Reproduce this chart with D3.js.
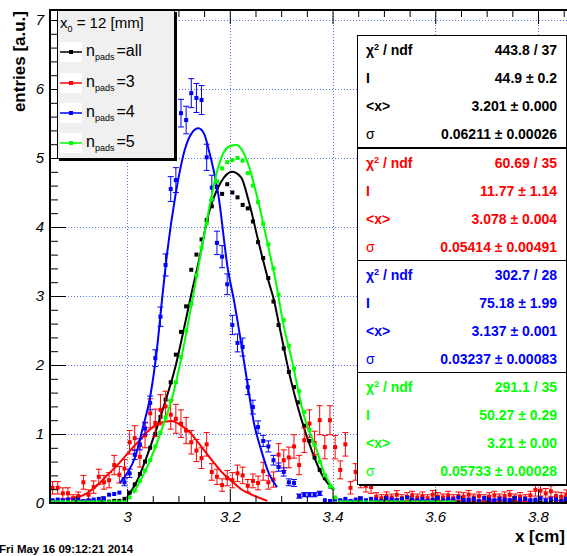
<!DOCTYPE html>
<html><head><meta charset="utf-8">
<script src="https://cdn.jsdelivr.net/npm/d3@7"></script>
<style>
body{margin:0;background:#fff;overflow:hidden}
svg{display:block;font-family:"Liberation Sans",Arial,Helvetica,sans-serif}
</style>
</head><body>
<svg id="c" width="567" height="556"></svg>
<script>
// ---------------- data ----------------
const binStart = 2.855, binWidth = 0.01;   // histogram bin centres 2.855 ... 3.895
const xDomain = [2.85, 3.9];
const yDomain = [0, 7.145];
const xTicks = [3.0, 3.2, 3.4, 3.6, 3.8];
const xTickLabels = ["3", "3.2", "3.4", "3.6", "3.8"];
const yTicks = [0, 1, 2, 3, 4, 5, 6, 7];
const yTickLabels = ["0", "1", "2", "3", "4", "5", "6", "7"];

const seriesNames = ["all", "3", "4", "5"];
const seriesColors = ["#000000", "#ff0000", "#0000ff", "#00ff00"];

const blackVals = [0.02,0.01,0.02,0.01,0.02,0.02,0.01,0.02,0.02,0.01,0.02,0.02,0.03,0.03,0.06,
 0.15,0.27,0.42,0.60,0.80,1.00,1.25,1.50,1.75,2.15,2.48,2.85,3.38,3.60,3.82,4.10,4.30,4.58,4.48,4.62,
 4.50,4.43,4.32,4.27,4.08,3.78,3.55,3.26,2.92,2.58,2.24,1.90,1.68,1.46,1.12,0.90,0.66,0.48,0.36,0.24,0.07,
 0.03,0.02,0.02,0.01,0.02,0.01,0.02,0.01,0.01,0.02,0.01,0.02,0.01,0.01,0.02,0.01,0.02,0.01,0.01,0.02,
 0.01,0.01,0.02,0.01,0.02,0.01,0.01,0.02,0.01,0.01,0.02,0.01,0.01,0.02,0.01,0.01,0.02,0.01,0.02,0.01,
 0.01,0.02,0.01,0.01,0.02,0.01,0.01,0.02,0.01];

const redVals = [0.22,0.22,0.14,0.14,0.07,0.10,0.30,0.12,0.23,0.38,0.30,0.33,0.55,0.41,0.50,0.88,0.94,0.67,0.98,1.30,
 1.16,1.35,1.40,1.28,1.22,1.15,1.05,0.88,0.76,0.65,0.85,0.45,0.38,0.26,0.36,0.33,0.43,0.40,0.25,0.32,
 0.29,0.46,0.30,0.34,0.70,0.62,0.66,0.82,0.55,0.91,1.15,0.87,1.20,0.81,1.20,0.81,0.48,0.85,0.22,0.45,
 0.33,0.25,0.23,0.09,0.07,
 0.10,0.08,0.12,0.07,0.09,0.11,0.08,0.10,0.07,0.12,0.09,0.08,0.11,0.07,0.10,0.09,0.12,0.08,0.10,0.07,
 0.09,0.11,0.08,0.10,0.12,0.08,0.09,0.07,0.11,0.19,0.18,0.14,0.17,0.10,0.09,0.12,0.19,0.08,0.10,0.09];
const redErrs = [0.09,0.09,0.08,0.08,0.05,0.06,0.10,0.07,0.09,0.11,0.10,0.11,0.14,0.12,0.13,0.17,0.18,0.15,0.18,0.21,
 0.20,0.22,0.22,0.21,0.21,0.20,0.19,0.17,0.16,0.15,0.17,0.12,0.11,0.09,0.11,0.11,0.12,0.12,0.09,0.10,
 0.10,0.13,0.10,0.11,0.16,0.15,0.15,0.17,0.14,0.18,0.20,0.17,0.21,0.17,0.21,0.17,0.13,0.17,0.09,0.12,
 0.11,0.09,0.09,0.06,0.05,
 0.06,0.05,0.06,0.05,0.06,0.06,0.05,0.06,0.05,0.06,0.06,0.05,0.06,0.05,0.06,0.06,0.06,0.05,0.06,0.05,
 0.06,0.06,0.05,0.06,0.06,0.05,0.06,0.05,0.06,0.09,0.08,0.07,0.08,0.06,0.06,0.07,0.09,0.05,0.06,0.06];

const blueVals = [0.04,0.05,0.04,0.05,0.04,0.05,0.03,0.04,0.05,0.06,0.07,0.12,0.13,0.15,
 0.30,0.43,0.70,0.85,1.08,1.45,2.10,2.70,3.45,4.55,4.68,5.65,5.55,5.94,5.87,5.84,5.01,4.57,3.77,3.57,3.17,
 2.58,2.32,2.26,1.68,1.39,1.10,0.90,0.82,0.62,0.52,0.45,0.30,0.29,0.10,0.12,0.12,0.12,0.14,0.04,0.03,0.05,
 0.04,0.06,0.03,0.05,0.07,0.04,0.06,0.05,0.03,0.07,0.05,0.04,0.06,0.08,0.05,0.04,0.06,0.03,0.05,0.07,
 0.04,0.06,0.05,0.08,0.04,0.05,0.06,0.03,0.07,0.05,0.04,0.06,0.05,0.04,0.07,0.05,0.06,0.04,0.05,0.07,
 0.04,0.06,0.05,0.03,0.06,0.05,0.04,0.06,0.05];
const blueErrs = [0.02,0.02,0.02,0.02,0.02,0.02,0.02,0.02,0.02,0.02,0.02,0.02,0.02,0.02,
 0.05,0.06,0.07,0.08,0.09,0.10,0.12,0.14,0.16,0.18,0.18,0.20,0.20,0.21,0.21,0.21,0.19,0.18,0.17,0.16,0.15,
 0.14,0.13,0.13,0.11,0.10,0.09,0.08,0.08,0.07,0.06,0.06,0.05,0.05,0.03,0.03,0.03,0.03,0.03,0.02,0.02,0.02,
 0.02,0.02,0.02,0.02,0.02,0.02,0.02,0.02,0.02,0.02,0.02,0.02,0.02,0.02,0.02,0.02,0.02,0.02,0.02,0.02,
 0.02,0.02,0.02,0.02,0.02,0.02,0.02,0.02,0.02,0.02,0.02,0.02,0.02,0.02,0.02,0.02,0.02,0.02,0.02,0.02,
 0.02,0.02,0.02,0.02,0.02,0.02,0.02,0.02,0.02];

const greenVals = [0.01,0.01,0.01,0.01,0.01,0.01,0.01,0.01,0.01,0.01,0.01,0.01,0.01,0.01,0.01,
 0.08,0.18,0.32,0.47,0.62,0.82,1.02,1.24,1.48,1.75,2.12,2.50,2.88,3.30,3.70,4.05,4.40,4.66,4.85,4.94,
 4.97,5.00,4.96,4.78,4.60,4.36,4.05,3.75,3.40,3.02,2.65,2.28,1.95,1.62,1.32,1.06,0.84,0.60,0.40,0.24,0.08,
 0.01,0.01,0.01,0.01,0.01,0.01,0.01,0.01,0.01,0.01,0.01,0.01,0.01,0.01,0.01,0.01,0.01,0.01,0.01,0.01,
 0.01,0.01,0.01,
 null,null,null,null,null,null,null,null,null,null,null,null,null,null,null,null,null,null,null,null,
 null,null,null,null,null,null];

// fitted curves
const blackFitX = [3.000,3.020,3.045,3.071,3.094,3.110,3.124,3.143,3.157,3.167,3.182,3.204,3.222,3.237,3.257,3.276,3.286,3.296,3.306,3.313,3.326,3.339,3.359,3.378,3.400];
const blackFitY = [0.08,0.33,0.81,1.39,1.97,2.50,2.99,3.62,4.14,4.39,4.64,4.80,4.72,4.37,3.75,3.20,2.94,2.58,2.22,1.97,1.57,1.22,0.77,0.43,0.20];
const redFitX = [2.884,2.914,2.947,2.961,2.980,3.012,3.025,3.039,3.065,3.086,3.110,3.124,3.137,3.160,3.188,3.205,3.222,3.240,3.273];
const redFitY = [0.06,0.11,0.29,0.40,0.54,0.81,0.91,1.03,1.16,1.19,1.10,1.01,0.89,0.67,0.42,0.31,0.20,0.13,0.03];
const blueFitX = [2.986,3.000,3.016,3.031,3.045,3.058,3.068,3.078,3.094,3.114,3.125,3.139,3.150,3.159,3.178,3.196,3.208,3.222,3.235,3.247,3.261,3.276,3.292];
const blueFitY = [0.29,0.43,0.67,1.10,1.54,2.22,2.94,3.62,4.45,5.16,5.35,5.43,5.35,5.12,4.45,3.40,2.94,2.32,1.70,1.16,0.77,0.43,0.23];
const greenFitX = [3.012,3.039,3.065,3.090,3.110,3.127,3.137,3.150,3.163,3.175,3.188,3.200,3.214,3.225,3.235,3.255,3.275,3.290,3.304,3.320,3.345,3.369,3.384,3.404];
const greenFitY = [0.14,0.52,1.01,1.59,2.26,2.94,3.35,3.88,4.39,4.80,5.08,5.17,5.19,5.10,4.93,4.38,3.71,3.19,2.60,2.10,1.25,0.77,0.43,0.19];

// fit statistics
const statLabels = ["\u03C7\u00B2 / ndf", "I", "<x>", "\u03C3"];
const statBlack = ["443.8 / 37", "44.9 \u00B1 0.2", "3.201 \u00B1 0.000", "0.06211 \u00B1 0.00026"];
const statRed   = ["60.69 / 35", "11.77 \u00B1 1.14", "3.078 \u00B1 0.004", "0.05414 \u00B1 0.00491"];
const statBlue  = ["302.7 / 28", "75.18 \u00B1 1.99", "3.137 \u00B1 0.001", "0.03237 \u00B1 0.00083"];
const statGreen = ["291.1 / 35", "50.27 \u00B1 0.29", "3.21 \u00B1 0.00", "0.05733 \u00B1 0.00028"];

// ---------------- drawing ----------------
const svg = d3.select("#c");
const X0 = 50, X1 = 589.4, Y0 = 503, Y1 = 10;
const x = d3.scaleLinear().domain(xDomain).range([X0, X1]);
const y = d3.scaleLinear().domain(yDomain).range([Y0, Y1]);

svg.append("defs").append("clipPath").attr("id", "plot")
  .append("rect").attr("x", X0).attr("y", Y1).attr("width", X1 - X0).attr("height", Y0 - Y1);

// grid
const grid = svg.append("g").attr("stroke", "#5572ff").attr("stroke-width", 1).attr("stroke-dasharray", "1,2");
xTicks.forEach(v => grid.append("line").attr("x1", Math.round(x(v)) + 0.5).attr("x2", Math.round(x(v)) + 0.5).attr("y1", Y1).attr("y2", Y0));
yTicks.filter(v => v > 0).forEach(v => grid.append("line").attr("x1", X0).attr("x2", X1).attr("y1", Math.round(y(v)) + 0.5).attr("y2", Math.round(y(v)) + 0.5));

// data
const plot = svg.append("g").attr("clip-path", "url(#plot)");
const bins = d3.range(blackVals.length).map(i => binStart + i * binWidth);

function drawSeries(vals, errs, fitX, fitY, color) {
  const g = plot.append("g");
  const pts = bins.map((c, i) => ({c, v: vals[i], e: errs ? errs[i] : 0})).filter(d => d.v !== null);
  if (errs) {
    const eb = g.append("g").attr("stroke", color).attr("stroke-width", 1);
    pts.forEach(d => {
      const px = x(d.c), yt = y(d.v + d.e), yb = y(Math.max(0, d.v - d.e));
      if (yb - yt < 4) return;
      eb.append("line").attr("x1", px).attr("x2", px).attr("y1", yt).attr("y2", yb);
      eb.append("line").attr("x1", px - 3).attr("x2", px + 3).attr("y1", yt).attr("y2", yt);
      eb.append("line").attr("x1", px - 3).attr("x2", px + 3).attr("y1", yb).attr("y2", yb);
    });
  }
  g.selectAll("rect.m").data(pts).join("rect").attr("class", "m")
    .attr("x", d => x(d.c) - 2).attr("y", d => y(d.v) - 2).attr("width", 4).attr("height", 4)
    .attr("fill", color);
  const line = d3.line().x(d => x(d[0])).y(d => y(d[1])).curve(d3.curveMonotoneX);
  g.append("path").attr("d", line(fitX.map((v, i) => [v, fitY[i]])))
    .attr("fill", "none").attr("stroke", color).attr("stroke-width", 2);
}
drawSeries(blackVals, null, blackFitX, blackFitY, seriesColors[0]);
drawSeries(redVals, redErrs, redFitX, redFitY, seriesColors[1]);
drawSeries(blueVals, blueErrs, blueFitX, blueFitY, seriesColors[2]);
drawSeries(greenVals, null, greenFitX, greenFitY, seriesColors[3]);

// axes
const xMinor = d3.range(2.85, 3.9001, 0.05).filter(v => !xTicks.some(t => Math.abs(t - v) < 1e-6));
const yMinor = d3.range(0, 7.1001, 0.2).filter(v => !yTicks.some(t => Math.abs(t - v) < 1e-6));
const fmtX = d => xTickLabels[xTicks.indexOf(d)];
const fmtY = d => yTickLabels[yTicks.indexOf(d)];

function styleAxis(g) {
  g.select(".domain").remove();
  g.selectAll("line").attr("stroke", "#000").attr("stroke-width", 1);
  g.selectAll("text").attr("font-size", 15).attr("font-style", "italic").attr("fill", "#000")
    .attr("font-family", '"Liberation Sans", Arial, sans-serif');
}
svg.append("g").attr("transform", `translate(0,${Y0})`)
  .call(d3.axisBottom(x).tickValues(xTicks).tickFormat(fmtX).tickSizeInner(-14).tickSizeOuter(0).tickPadding(8)).call(styleAxis);
svg.append("g").attr("transform", `translate(0,${Y0})`)
  .call(d3.axisBottom(x).tickValues(xMinor).tickFormat("").tickSizeInner(-7).tickSizeOuter(0)).call(styleAxis);
svg.append("g").attr("transform", `translate(0,${Y1})`)
  .call(d3.axisTop(x).tickValues(xTicks).tickFormat("").tickSizeInner(-14).tickSizeOuter(0)).call(styleAxis);
svg.append("g").attr("transform", `translate(0,${Y1})`)
  .call(d3.axisTop(x).tickValues(xMinor).tickFormat("").tickSizeInner(-7).tickSizeOuter(0)).call(styleAxis);
svg.append("g").attr("transform", `translate(${X0},0)`)
  .call(d3.axisLeft(y).tickValues(yTicks).tickFormat(fmtY).tickSizeInner(-16).tickSizeOuter(0).tickPadding(6)).call(styleAxis);
svg.append("g").attr("transform", `translate(${X0},0)`)
  .call(d3.axisLeft(y).tickValues(yMinor).tickFormat("").tickSizeInner(-8).tickSizeOuter(0)).call(styleAxis);

// frame
svg.append("rect").attr("x", X0).attr("y", Y1).attr("width", X1 - X0).attr("height", Y0 - Y1)
  .attr("fill", "none").attr("stroke", "#000").attr("stroke-width", 2);

// axis titles
svg.append("text").attr("transform", "translate(25,11) rotate(-90)").attr("text-anchor", "end")
  .attr("font-size", 17).attr("font-weight", "bold").text("entries [a.u.]");
svg.append("text").attr("x", 565).attr("y", 542).attr("text-anchor", "end")
  .attr("font-size", 17).attr("font-weight", "bold").text("x [cm]");
svg.append("text").attr("x", -1).attr("y", 553)
  .attr("font-size", 11.5).attr("font-weight", "bold").text("Fri May 16 09:12:21 2014");

// legend
const lg = svg.append("g");
lg.append("rect").attr("x", 59).attr("y", 12).attr("width", 118).attr("height", 149).attr("fill", "#000");
lg.append("rect").attr("x", 57.5).attr("y", 10.5).attr("width", 117).attr("height", 148)
  .attr("fill", "#f0f0f0").attr("stroke", "#000").attr("stroke-width", 1);
const hdr = lg.append("text").attr("x", 60).attr("y", 28).attr("font-size", 15);
hdr.append("tspan").text("x");
hdr.append("tspan").attr("font-size", 9).attr("dy", 4).text("0");
hdr.append("tspan").attr("dy", -4).text(" = 12 [mm]");
const legendY = [52, 83, 113, 143];
seriesNames.forEach((nm, i) => {
  const cy = legendY[i];
  lg.append("rect").attr("x", 60).attr("y", cy - 10).attr("width", 22).attr("height", 20).attr("fill", "#fff");
  lg.append("line").attr("x1", 60).attr("x2", 82).attr("y1", cy).attr("y2", cy)
    .attr("stroke", seriesColors[i]).attr("stroke-width", 1.5);
  lg.append("rect").attr("x", 69).attr("y", cy - 2).attr("width", 4).attr("height", 4).attr("fill", seriesColors[i]);
  const t = lg.append("text").attr("x", 86).attr("y", cy + 4).attr("font-size", 16);
  t.append("tspan").text("n");
  t.append("tspan").attr("font-size", 9).attr("dy", 4).text("pads");
  t.append("tspan").attr("dy", -4).attr("dx", 2).text("=" + nm);
});

// stat boxes
const boxTops = [35, 148, 260, 372];
const boxH = 112;
const statSets = [statBlack, statRed, statBlue, statGreen];
statSets.forEach((vals, k) => {
  const top = boxTops[k], col = seriesColors[k];
  const g = svg.append("g");
  g.append("rect").attr("x", 359).attr("y", top + 2).attr("width", 212).attr("height", boxH).attr("fill", "#000");
  g.append("rect").attr("x", 357.5).attr("y", top + 0.5).attr("width", 209).attr("height", boxH)
    .attr("fill", "#fff").attr("stroke", "#000").attr("stroke-width", 1);
  vals.forEach((v, r) => {
    const by = top + 20 + r * 28;
    const lab = g.append("text").attr("x", 366).attr("y", by).attr("fill", col).attr("font-size", 14).attr("font-weight", "bold");
    if (r === 0) {
      lab.append("tspan").text("\u03C7");
      lab.append("tspan").attr("font-size", 9).attr("dy", -5).text("2");
      lab.append("tspan").attr("dy", 5).text(" / ndf");
    } else if (r === 3) {
      lab.attr("font-weight", "normal").text(statLabels[r]);
    } else {
      lab.text(statLabels[r]);
    }
    g.append("text").attr("x", 557).attr("y", by).attr("text-anchor", "end").attr("fill", col)
      .attr("font-size", 14).attr("font-weight", "bold").text(v);
  });
});
</script>
</body></html>
